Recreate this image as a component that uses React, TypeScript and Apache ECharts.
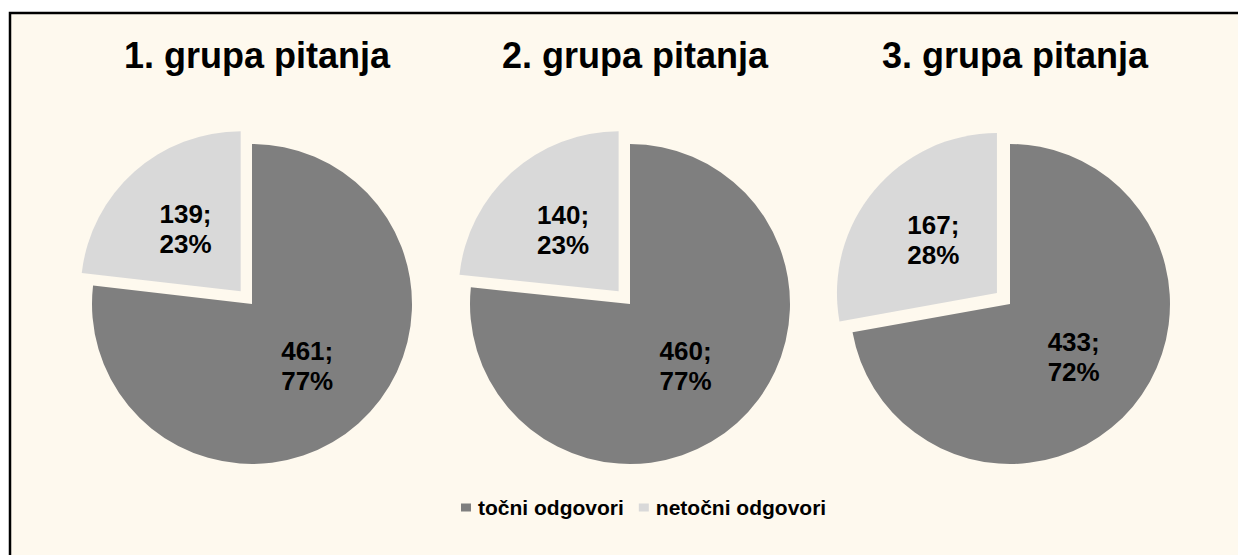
import React, { useEffect, useRef } from "react";
import * as echarts from "echarts";

const groupTitles = ["1. grupa pitanja", "2. grupa pitanja", "3. grupa pitanja"];
const categories = ["točni odgovori", "netočni odgovori"];
const correctValues = [461, 460, 433];
const incorrectValues = [139, 140, 167];
const sliceColors = ["#7F7F7F", "#D9D9D9"];

const centersX = [252, 630, 1010];

export default function App() {
  const ref = useRef<HTMLDivElement>(null);
  useEffect(() => {
    if (!ref.current) return;
    const chart = echarts.init(ref.current, undefined, { renderer: "svg" });
    const font = "Arial, 'Liberation Sans', sans-serif";
    const series = groupTitles.map((t, i) => ({
      type: "pie",
      name: t,
      center: [centersX[i], 304],
      radius: 160,
      startAngle: 90,
      clockwise: true,
      selectedMode: "multiple",
      selectedOffset: 17,
      avoidLabelOverlap: false,
      label: {
        show: true,
        position: "inside",
        color: "#000",
        fontFamily: font,
        fontWeight: "bold",
        fontSize: 26,
        lineHeight: 30,
        formatter: (p: any) => `${p.value};\n${Math.round(p.percent)}%`,
      },
      labelLine: { show: false },
      emphasis: { disabled: true },
      data: [
        { name: categories[0], value: correctValues[i], itemStyle: { color: sliceColors[0] } },
        { name: categories[1], value: incorrectValues[i], selected: true, itemStyle: { color: sliceColors[1] } },
      ],
    }));
    chart.setOption({
      animation: false,
      backgroundColor: "#FFFFFF",
      graphic: [
        {
          type: "rect",
          z: -10,
          shape: { x: 10, y: 13, width: 1260, height: 580 },
          style: { fill: "#FEF9EE", stroke: "#000", lineWidth: 2.5 },
          silent: true,
        },
      ],
      title: groupTitles.map((t, i) => ({
        text: t,
        left: centersX[i],
        top: 32,
        textAlign: "center",
        textStyle: { fontFamily: font, fontWeight: "bold", fontSize: 36, color: "#000" },
      })),
      legend: {
        data: categories,
        left: 456,
        top: 492,
        icon: "rect",
        itemWidth: 10,
        itemHeight: 8,
        itemGap: 15,
        selectedMode: false,
        textStyle: { fontFamily: font, fontWeight: "bold", fontSize: 21, color: "#000", padding: [0, 0, 0, 2] },
      },
      series,
    });
    return () => chart.dispose();
  }, []);
  return (
    <div
      ref={ref}
      style={{ position: "fixed", left: 0, top: 0, width: 1238, height: 555 }}
    />
  );
}
